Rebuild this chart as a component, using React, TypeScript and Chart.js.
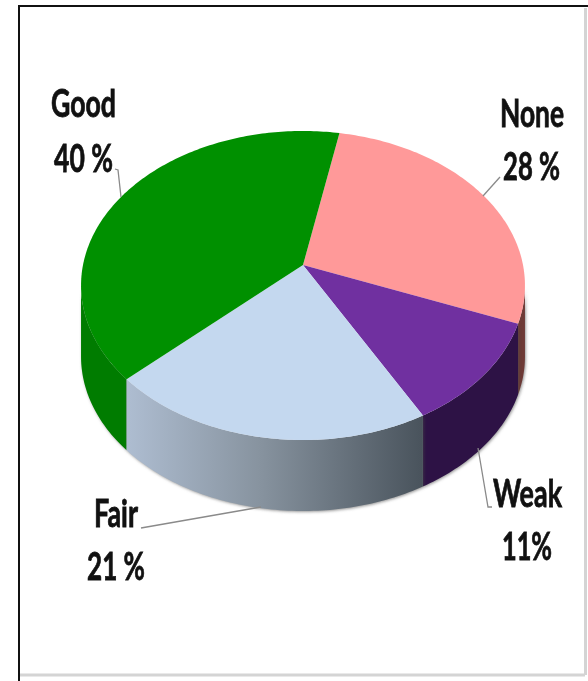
import React, { useEffect, useRef } from "react";
import { Chart, registerables } from "chart.js";

Chart.register(...registerables);

const categories = ["None", "Weak", "Fair", "Good"];
const values = [28, 11, 21, 40];
const percentLabels = ["28 %", "11%", "21 %", "40 %"];
const topColors = ["#ff9999", "#7030a0", "#c4d8ef", "#009000"];
const wallColors = ["#6e3a36", "#2d1245", "", "#007c00"];

const TILT = 0.1327;
const SQUASH = 0.69;
const DEPTH = 71;
const SILHOUETTE = Math.asin(TILT);

const frameAndLabels = (ctx: CanvasRenderingContext2D) => {
  // frame of the picture
  ctx.save();
  ctx.strokeStyle = "#d4d4d4";
  ctx.lineWidth = 3;
  ctx.beginPath();
  ctx.moveTo(20, 675);
  ctx.lineTo(585, 675);
  ctx.moveTo(585.5, 8);
  ctx.lineTo(585.5, 675);
  ctx.stroke();
  ctx.strokeStyle = "#111";
  ctx.lineWidth = 2;
  ctx.beginPath();
  ctx.moveTo(19, 681);
  ctx.lineTo(19, 6);
  ctx.lineTo(588, 6);
  ctx.stroke();
  ctx.restore();
};

const leaders: number[][][] = [
  [[500, 177], [483, 196]],
  [[478, 448], [488, 507], [492, 507]],
  [[141, 528], [261, 507]],
  [[115, 169], [118, 170], [121, 197]],
];

const labelBoxes = [
  { name: [500, 127, 64], pct: [503, 180, 57] },
  { name: [493, 507, 69], pct: [502, 560, 50] },
  { name: [94, 527, 44], pct: [87, 580, 58] },
  { name: [51, 117, 65], pct: [54, 172, 59] },
];

const pie3d = {
  id: "pie3d",
  beforeDatasetsDraw(chart: any) {
    const ctx: CanvasRenderingContext2D = chart.ctx;
    const arcs = chart.getDatasetMeta(0).data;
    const first = arcs[0];
    const cx = first.x;
    const cy = first.y;
    const R = first.outerRadius;
    const proj = (t: number, dy = 0): [number, number] => {
      const s = Math.sin(t);
      const w = 1 - TILT * s;
      return [cx + (R * Math.cos(t)) / w, cy + (R * SQUASH * s) / w + dy];
    };
    const sample = (a: number, b: number) => {
      const n = Math.max(2, Math.ceil(Math.abs(b - a) * 60));
      const out: number[] = [];
      for (let i = 0; i <= n; i++) out.push(a + ((b - a) * i) / n);
      return out;
    };

    frameAndLabels(ctx);

    // walls, back to front
    const order = [0, 3, 1, 2];
    order.forEach((i) => {
      const el = arcs[i];
      const a = Math.max(el.startAngle, SILHOUETTE);
      const b = Math.min(el.endAngle, Math.PI - SILHOUETTE);
      if (b <= a) return;
      const ts = sample(a, b);
      ctx.save();
      ctx.shadowColor = "rgba(70,70,70,0.55)";
      ctx.shadowBlur = 3;
      ctx.shadowOffsetX = 1;
      ctx.shadowOffsetY = 1;
      ctx.beginPath();
      ts.forEach((t, j) => {
        const p = proj(t);
        if (j === 0) ctx.moveTo(p[0], p[1]);
        else ctx.lineTo(p[0], p[1]);
      });
      ts.slice().reverse().forEach((t) => {
        const p = proj(t, DEPTH);
        ctx.lineTo(p[0], p[1]);
      });
      ctx.closePath();
      if (wallColors[i]) {
        ctx.fillStyle = wallColors[i];
      } else {
        const l = proj(b)[0];
        const r = proj(a)[0];
        const g = ctx.createLinearGradient(l, 0, r, 0);
        g.addColorStop(0, "#aebdd1");
        g.addColorStop(0.45, "#87939f");
        g.addColorStop(1, "#49535c");
        ctx.fillStyle = g;
      }
      ctx.fill();
      ctx.restore();
    });

    // top faces
    arcs.forEach((el: any, i: number) => {
      ctx.beginPath();
      ctx.moveTo(cx, cy);
      sample(el.startAngle, el.endAngle).forEach((t) => {
        const p = proj(t);
        ctx.lineTo(p[0], p[1]);
      });
      ctx.closePath();
      ctx.fillStyle = topColors[i];
      ctx.fill();
    });

    // leader lines
    ctx.save();
    ctx.strokeStyle = "#8a8a8a";
    ctx.lineWidth = 1.3;
    leaders.forEach((pts) => {
      ctx.beginPath();
      pts.forEach((p, j) => (j === 0 ? ctx.moveTo(p[0], p[1]) : ctx.lineTo(p[0], p[1])));
      ctx.stroke();
    });
    ctx.restore();

    // labels
    ctx.save();
    ctx.filter = "blur(0.6px)";
    ctx.fillStyle = "#111";
    ctx.strokeStyle = "#111";
    ctx.lineWidth = 0.8;
    ctx.textAlign = "left";
    ctx.textBaseline = "alphabetic";
    ctx.font = "bold 38px Lato";
    categories.forEach((c, i) => {
      const n = labelBoxes[i].name;
      const v = labelBoxes[i].pct;
      ctx.fillText(c, n[0], n[1], n[2]);
      ctx.strokeText(c, n[0], n[1], n[2]);
      ctx.fillText(percentLabels[i], v[0], v[1], v[2]);
      ctx.strokeText(percentLabels[i], v[0], v[1], v[2]);
    });
    ctx.restore();
    return false;
  },
};

export default function App() {
  const ref = useRef<HTMLCanvasElement>(null);
  useEffect(() => {
    const chart = new Chart(ref.current as HTMLCanvasElement, {
      type: "pie",
      data: {
        labels: categories,
        datasets: [{ data: values, backgroundColor: topColors, borderWidth: 0 }],
      },
      options: {
        animation: false,
        responsive: false,
        rotation: 10.8,
        layout: { padding: { left: 83, right: 65, top: 45, bottom: 196 } },
        plugins: { legend: { display: false }, tooltip: { enabled: false } },
      },
      plugins: [pie3d],
    } as any);
    return () => chart.destroy();
  }, []);
  return (
    <canvas
      ref={ref}
      width={588}
      height={681}
      style={{ position: "fixed", left: 0, top: 0, display: "block", background: "#fff" }}
    />
  );
}
